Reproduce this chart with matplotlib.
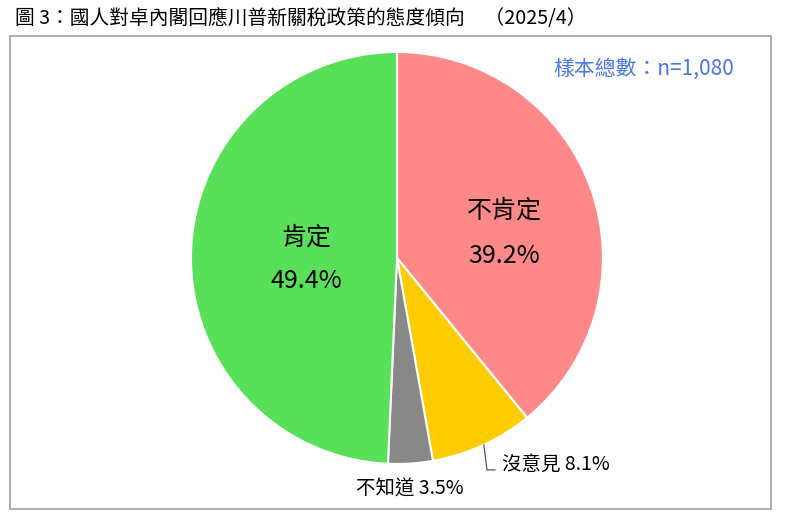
import matplotlib.pyplot as plt
from matplotlib.patches import Rectangle

plt.rcParams['font.family'] = ['Noto Sans CJK TC', 'DejaVu Sans']

# data
labels = ['不肯定', '沒意見', '不知道', '肯定']
values = [39.2, 8.1, 3.5, 49.4]
colors = ['#FF8888', '#FFCC00', '#888888', '#58E058']

title = '圖 3：國人對卓內閣回應川普新關稅政策的態度傾向　（2025/4）'
sample_note = '樣本總數：n=1,080'

fig = plt.figure(figsize=(7.85, 5.25), dpi=100)

# frame around the chart area
fig.patches.append(Rectangle((0.0127, 0.0305), 0.9695, 0.9009, transform=fig.transFigure,
                             fill=False, edgecolor='#A0A0A0', linewidth=1.2))

fig.text(0.019, 0.965, title, fontsize=14.2, va='center', ha='left', color='#000000')
fig.text(0.935, 0.868, sample_note, fontsize=15, va='center', ha='right', color='#4A78E8')

ax = fig.add_axes([0.2433, 0.1162, 0.5248, 0.7848])
ax.pie(values, colors=colors, startangle=90, counterclock=False,
       wedgeprops=dict(edgecolor='white', linewidth=1.5))
ax.set_xlim(-1, 1)
ax.set_ylim(-1, 1)
ax.set_aspect('equal')
ax.axis('off')

# big labels inside
big = dict(fontsize=18, ha='center', va='center', fontweight='medium')
ax.text(0.52, 0.23, labels[0], **big)
ax.text(0.52, 0.01, f'{values[0]}%', **big)
ax.text(-0.44, 0.10, labels[3], **big)
ax.text(-0.44, -0.11, f'{values[3]}%', **big)

# small outside labels
ax.plot([0.422, 0.437, 0.476], [-0.908, -1.029, -1.029], color='#555555', lw=0.9, clip_on=False)
small = dict(fontsize=14, va='center', fontweight='medium')
ax.text(0.51, -1.0, f'{labels[1]} {values[1]}%', ha='left', **small)
ax.text(0.06, -1.122, f'{labels[2]} {values[2]}%', ha='center', **small)

fig.savefig('out.png', dpi=100)
